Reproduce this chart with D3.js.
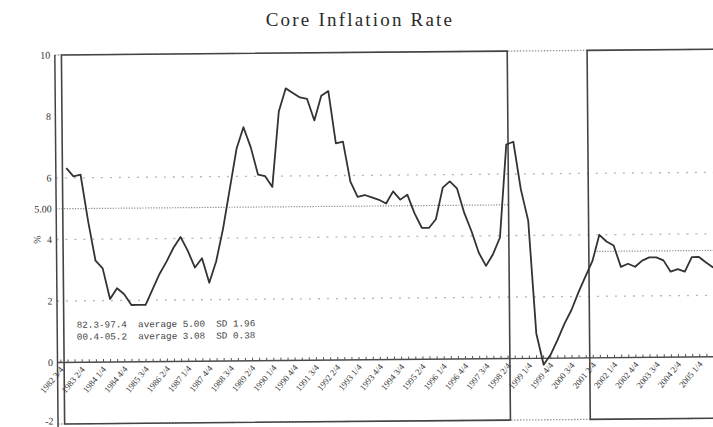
<!DOCTYPE html>
<meta charset="utf-8">
<script src="https://d3js.org/d3.v7.min.js"></script>
<div id="vis"></div>
<style>
    body { margin: 0; background: #fff; }
    text { font-family: "Liberation Serif", "DejaVu Serif", serif; fill: #333; }
</style>
<script>
    // quarterly core inflation, 1982 3/4 .. 2005 2/4
    var rates = [6.32, 6.05, 6.1, 4.6, 3.3, 3.05, 2.05, 2.4, 2.2, 1.85,
        1.85, 1.85, 2.35, 2.85, 3.25, 3.7, 4.05, 3.6, 3.05, 3.35,
        2.55, 3.25, 4.3, 5.6, 6.9, 7.6, 6.95, 6.05, 6.0, 5.65,
        8.1, 8.85, 8.7, 8.55, 8.5, 7.8, 8.6, 8.75, 7.05, 7.1,
        5.8, 5.3, 5.36, 5.28, 5.2, 5.08, 5.47, 5.2, 5.36, 4.75,
        4.28, 4.27, 4.55, 5.58, 5.78, 5.55, 4.75, 4.15, 3.45, 3.02,
        3.4, 3.94, 6.96, 7.05, 5.5, 4.48, 0.81, -0.21, 0.12, 0.6,
        1.13, 1.57, 2.14, 2.65, 3.15, 4.0, 3.78, 3.65, 2.95, 3.05,
        2.95, 3.15, 3.25, 3.25, 3.15, 2.78, 2.86, 2.78, 3.25, 3.25,
        3.07, 2.9];

    // one label every 3 quarters
    var tickLabels = ["1982 3/4", "1983 2/4", "1984 1/4", "1984 4/4", "1985 3/4", "1986 2/4",
        "1987 1/4", "1987 4/4", "1988 3/4", "1989 2/4", "1990 1/4", "1990 4/4", "1991 3/4",
        "1992 2/4", "1993 1/4", "1993 4/4", "1994 3/4", "1995 2/4", "1996 1/4", "1996 4/4",
        "1997 3/4", "1998 2/4", "1999 1/4", "1999 4/4", "2000 3/4", "2001 2/4", "2002 1/4",
        "2002 4/4", "2003 3/4", "2004 2/4", "2005 1/4"];

    var yTicks = [10, 8, 6, 5, 4, 2, 0, -2];
    var yTickText = ["10", "8", "6", "5.00", "4", "2", "0", "-2"];
    var gridVals = [6, 4, 2];

    // the two periods (in quarter index units)
    var periodStart = [-0.55, 73.5];
    var periodEnd = [62.25, 93];
    var periodNotes = ["82.3-97.4  average 5.00  SD 1.96",
        "00.4-05.2  average 3.08  SD 0.38"];
    var refVals = [5.00, 3.46];
    var refFrom = [-1.5, 74.6];
    var refTo = [62.25, 93];

    var W = 713, H = 427;

    var svg = d3.select("#vis")
        .append("svg")
        .attr("width", W)
        .attr("height", H);

    svg.append("text")
        .attr("x", 360)
        .attr("y", 26)
        .attr("text-anchor", "middle")
        .style("font-size", "19px")
        .style("letter-spacing", "2.2px")
        .style("fill", "#2a2a2a")
        .text("Core Inflation Rate");

    // scanned page is a bit tilted
    var g = svg.append("g")
        .attr("transform", "rotate(-0.5, 60, 362)");

    var x = d3.scaleLinear().domain([0, 91]).range([68, 714]);
    var y = d3.scaleLinear().domain([-2, 10]).range([424, 55]);
    var axisX = 57.5;

    // faint grid
    g.selectAll(".grid")
        .data(gridVals)
        .enter()
        .append("line")
        .attr("x1", axisX).attr("x2", W + 10)
        .attr("y1", function (d) { return y(d); })
        .attr("y2", function (d) { return y(d); })
        .attr("stroke", "#b4b4b4")
        .attr("stroke-width", 1.3)
        .attr("stroke-dasharray", "2,7");

    // top and bottom dotted frame
    [10, -2].forEach(function (v) {
        g.append("line")
            .attr("x1", axisX).attr("x2", W + 10)
            .attr("y1", y(v)).attr("y2", y(v))
            .attr("stroke", "#999")
            .attr("stroke-width", 1.3)
            .attr("stroke-dasharray", "1.5,1.5");
    });

    // average lines
    refVals.forEach(function (v, i) {
        g.append("line")
            .attr("x1", x(refFrom[i])).attr("x2", x(refTo[i]))
            .attr("y1", y(v)).attr("y2", y(v))
            .attr("stroke", "#8a8a8a")
            .attr("stroke-width", 1.2)
            .attr("stroke-dasharray", "1.2,1.5");
    });

    // period boxes
    periodStart.forEach(function (s, i) {
        g.append("rect")
            .attr("x", x(s))
            .attr("y", y(10))
            .attr("width", x(periodEnd[i]) - x(s))
            .attr("height", y(-2) - y(10))
            .attr("fill", "none")
            .attr("stroke", "#444")
            .attr("stroke-width", 1.6);
    });

    // zero line with quarter ticks
    g.append("line")
        .attr("x1", axisX).attr("x2", W + 10)
        .attr("y1", y(0)).attr("y2", y(0))
        .attr("stroke", "#4a4a4a")
        .attr("stroke-width", 1.4);
    g.selectAll(".qtick")
        .data(d3.range(-1, 93))
        .enter()
        .append("line")
        .attr("x1", function (d) { return x(d); })
        .attr("x2", function (d) { return x(d); })
        .attr("y1", y(0))
        .attr("y2", y(0) - 3)
        .attr("stroke", "#555")
        .attr("stroke-width", 1);

    // the series
    var line = d3.line()
        .x(function (d, i) { return x(i); })
        .y(function (d) { return y(d); });
    g.append("path")
        .datum(rates)
        .attr("d", line)
        .attr("fill", "none")
        .attr("stroke", "#333")
        .attr("stroke-width", 1.8)
        .attr("stroke-linejoin", "round");

    // y axis
    g.append("line")
        .attr("x1", axisX).attr("x2", axisX)
        .attr("y1", y(10)).attr("y2", H + 10)
        .attr("stroke", "#444")
        .attr("stroke-width", 1.5);
    g.selectAll(".ylab")
        .data(yTicks)
        .enter()
        .append("text")
        .attr("x", 53)
        .attr("y", function (d) { return d < 0 ? y(d) - 3 : y(d); })
        .attr("dy", "0.35em")
        .attr("text-anchor", "end")
        .style("font-size", "10px")
        .text(function (d, i) { return yTickText[i]; });

    g.append("text")
        .attr("transform", "translate(38," + y(4) + ") rotate(-90)")
        .attr("text-anchor", "middle")
        .attr("dy", "0.35em")
        .style("font-size", "10px")
        .text("%");

    // x tick labels
    g.selectAll(".xlab")
        .data(tickLabels)
        .enter()
        .append("text")
        .attr("transform", function (d, i) {
            return "translate(" + (x(i * 3) - 4) + "," + (y(0) + 7.5) + ") rotate(-50)";
        })
        .attr("text-anchor", "end")
        .style("font-size", "8.8px")
        .style("fill", "#3a3a3a")
        .text(function (d) { return d; });

    // period notes
    g.selectAll(".note")
        .data(periodNotes)
        .enter()
        .append("text")
        .attr("x", 77)
        .attr("y", function (d, i) { return 328 + i * 12; })
        .attr("xml:space", "preserve")
        .style("white-space", "pre")
        .style("font-family", "'Liberation Mono', monospace")
        .style("font-size", "9.3px")
        .style("fill", "#444")
        .text(function (d) { return d; });
</script>
